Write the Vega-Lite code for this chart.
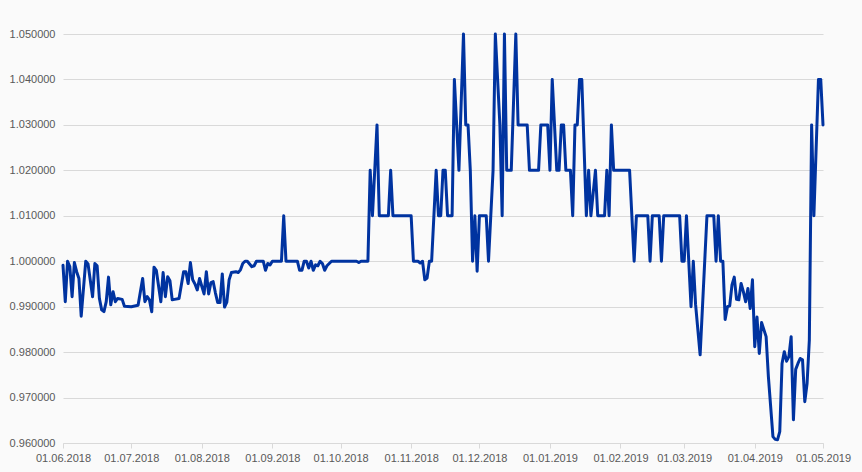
{
  "$schema": "https://vega.github.io/schema/vega-lite/v6.json",
  "width": 760,
  "height": 409,
  "autosize": {"type": "none"},
  "padding": {"left": 63, "top": 34, "right": 39, "bottom": 29},
  "background": "#fafafa",
  "config": {"view": {"stroke": null}, "font": "Liberation Sans"},
  "data": {"values": [
    {"d":"2018-06-01","v":0.9991},{"d":"2018-06-02","v":0.9911},{"d":"2018-06-03","v":1.0},{"d":"2018-06-04","v":0.9988},{"d":"2018-06-05","v":0.9922},{"d":"2018-06-06","v":0.9997},{"d":"2018-06-07","v":0.9977},{"d":"2018-06-08","v":0.9962},{"d":"2018-06-09","v":0.9879},{"d":"2018-06-11","v":1.0},{"d":"2018-06-12","v":0.9994},{"d":"2018-06-14","v":0.9922},{"d":"2018-06-15","v":0.9995},{"d":"2018-06-16","v":0.999},{"d":"2018-06-17","v":0.9918},{"d":"2018-06-18","v":0.9893},{"d":"2018-06-19","v":0.9889},{"d":"2018-06-20","v":0.9911},{"d":"2018-06-21","v":0.9965},{"d":"2018-06-22","v":0.9904},{"d":"2018-06-23","v":0.9933},{"d":"2018-06-24","v":0.9911},{"d":"2018-06-25","v":0.9918},{"d":"2018-06-27","v":0.9916},{"d":"2018-06-28","v":0.9901},
    {"d":"2018-07-01","v":0.99},{"d":"2018-07-04","v":0.9903},{"d":"2018-07-06","v":0.9962},{"d":"2018-07-07","v":0.9911},{"d":"2018-07-08","v":0.9922},{"d":"2018-07-09","v":0.9915},{"d":"2018-07-10","v":0.9889},{"d":"2018-07-11","v":0.9987},{"d":"2018-07-12","v":0.998},{"d":"2018-07-14","v":0.9911},{"d":"2018-07-15","v":0.9975},{"d":"2018-07-16","v":0.9922},{"d":"2018-07-17","v":0.9966},{"d":"2018-07-18","v":0.9957},{"d":"2018-07-19","v":0.9915},{"d":"2018-07-20","v":0.9916},{"d":"2018-07-22","v":0.9918},{"d":"2018-07-24","v":0.9977},{"d":"2018-07-25","v":0.9977},{"d":"2018-07-26","v":0.9951},{"d":"2018-07-27","v":0.9997},{"d":"2018-07-28","v":0.9959},{"d":"2018-07-29","v":0.995},{"d":"2018-07-30","v":0.9937},{"d":"2018-07-31","v":0.9962},
    {"d":"2018-08-01","v":0.9945},{"d":"2018-08-02","v":0.9928},{"d":"2018-08-03","v":0.9977},{"d":"2018-08-04","v":0.9928},{"d":"2018-08-05","v":0.9953},{"d":"2018-08-06","v":0.9955},{"d":"2018-08-07","v":0.993},{"d":"2018-08-08","v":0.9909},{"d":"2018-08-09","v":0.9909},{"d":"2018-08-10","v":0.9972},{"d":"2018-08-11","v":0.9899},{"d":"2018-08-12","v":0.991},{"d":"2018-08-13","v":0.9959},{"d":"2018-08-14","v":0.9975},{"d":"2018-08-16","v":0.9977},{"d":"2018-08-17","v":0.9975},{"d":"2018-08-18","v":0.9981},{"d":"2018-08-19","v":0.9995},{"d":"2018-08-20","v":1.0},{"d":"2018-08-21","v":1.0},{"d":"2018-08-23","v":0.9988},{"d":"2018-08-24","v":0.999},{"d":"2018-08-25","v":1.0},{"d":"2018-08-28","v":1.0},{"d":"2018-08-29","v":0.998},{"d":"2018-08-30","v":0.9995},{"d":"2018-08-31","v":0.9992},
    {"d":"2018-09-01","v":1.0},{"d":"2018-09-05","v":1.0},{"d":"2018-09-06","v":1.01},{"d":"2018-09-07","v":1.0},{"d":"2018-09-12","v":1.0},{"d":"2018-09-13","v":0.998},{"d":"2018-09-14","v":0.998},{"d":"2018-09-15","v":1.0},{"d":"2018-09-16","v":1.0},{"d":"2018-09-17","v":0.9985},{"d":"2018-09-18","v":1.0},{"d":"2018-09-19","v":0.998},{"d":"2018-09-20","v":0.9992},{"d":"2018-09-21","v":0.999},{"d":"2018-09-22","v":1.0},{"d":"2018-09-23","v":0.9995},{"d":"2018-09-24","v":0.998},{"d":"2018-09-25","v":0.999},{"d":"2018-09-26","v":0.9995},{"d":"2018-09-27","v":1.0},
    {"d":"2018-10-08","v":1.0},{"d":"2018-10-09","v":0.9997},{"d":"2018-10-10","v":1.0},{"d":"2018-10-13","v":1.0},{"d":"2018-10-14","v":1.02},{"d":"2018-10-15","v":1.01},{"d":"2018-10-17","v":1.03},{"d":"2018-10-18","v":1.01},{"d":"2018-10-22","v":1.01},{"d":"2018-10-23","v":1.02},{"d":"2018-10-24","v":1.01},
    {"d":"2018-11-01","v":1.01},{"d":"2018-11-02","v":1.0},{"d":"2018-11-04","v":1.0},{"d":"2018-11-05","v":0.9996},{"d":"2018-11-06","v":1.0},{"d":"2018-11-07","v":0.9959},{"d":"2018-11-08","v":0.9963},{"d":"2018-11-09","v":1.0},{"d":"2018-11-10","v":1.0},{"d":"2018-11-12","v":1.02},{"d":"2018-11-13","v":1.01},{"d":"2018-11-14","v":1.01},{"d":"2018-11-15","v":1.02},{"d":"2018-11-16","v":1.02},{"d":"2018-11-17","v":1.01},{"d":"2018-11-19","v":1.01},{"d":"2018-11-20","v":1.04},{"d":"2018-11-22","v":1.02},{"d":"2018-11-24","v":1.05},{"d":"2018-11-25","v":1.03},{"d":"2018-11-26","v":1.03},{"d":"2018-11-27","v":1.02},{"d":"2018-11-28","v":1.0},{"d":"2018-11-29","v":1.01},{"d":"2018-11-30","v":0.9978},
    {"d":"2018-12-01","v":1.01},{"d":"2018-12-04","v":1.01},{"d":"2018-12-05","v":1.0},{"d":"2018-12-07","v":1.02},{"d":"2018-12-08","v":1.05},{"d":"2018-12-10","v":1.03},{"d":"2018-12-11","v":1.01},{"d":"2018-12-12","v":1.05},{"d":"2018-12-13","v":1.02},{"d":"2018-12-15","v":1.02},{"d":"2018-12-17","v":1.05},{"d":"2018-12-18","v":1.03},{"d":"2018-12-22","v":1.03},{"d":"2018-12-23","v":1.02},{"d":"2018-12-27","v":1.02},{"d":"2018-12-28","v":1.03},{"d":"2018-12-31","v":1.03},
    {"d":"2019-01-01","v":1.02},{"d":"2019-01-02","v":1.04},{"d":"2019-01-04","v":1.02},{"d":"2019-01-05","v":1.02},{"d":"2019-01-06","v":1.03},{"d":"2019-01-07","v":1.03},{"d":"2019-01-08","v":1.02},{"d":"2019-01-10","v":1.02},{"d":"2019-01-11","v":1.01},{"d":"2019-01-12","v":1.03},{"d":"2019-01-13","v":1.03},{"d":"2019-01-14","v":1.04},{"d":"2019-01-15","v":1.04},{"d":"2019-01-17","v":1.01},{"d":"2019-01-18","v":1.02},{"d":"2019-01-19","v":1.01},{"d":"2019-01-21","v":1.02},{"d":"2019-01-22","v":1.01},{"d":"2019-01-25","v":1.01},{"d":"2019-01-26","v":1.02},{"d":"2019-01-27","v":1.01},{"d":"2019-01-28","v":1.03},{"d":"2019-01-29","v":1.02},
    {"d":"2019-02-05","v":1.02},{"d":"2019-02-07","v":1.0},{"d":"2019-02-08","v":1.01},{"d":"2019-02-13","v":1.01},{"d":"2019-02-14","v":1.0},{"d":"2019-02-15","v":1.01},{"d":"2019-02-18","v":1.01},{"d":"2019-02-19","v":1.0},{"d":"2019-02-20","v":1.01},{"d":"2019-02-27","v":1.01},{"d":"2019-02-28","v":1.0},
    {"d":"2019-03-01","v":1.0},{"d":"2019-03-02","v":1.01},{"d":"2019-03-04","v":0.99},{"d":"2019-03-05","v":1.0},{"d":"2019-03-06","v":0.9905},{"d":"2019-03-08","v":0.9794},{"d":"2019-03-11","v":1.01},{"d":"2019-03-14","v":1.01},{"d":"2019-03-15","v":1.0},{"d":"2019-03-16","v":1.01},{"d":"2019-03-17","v":1.0},{"d":"2019-03-18","v":1.0},{"d":"2019-03-19","v":0.9872},{"d":"2019-03-20","v":0.99},{"d":"2019-03-21","v":0.9902},{"d":"2019-03-22","v":0.9948},{"d":"2019-03-23","v":0.9965},{"d":"2019-03-24","v":0.9916},{"d":"2019-03-25","v":0.9915},{"d":"2019-03-26","v":0.9951},{"d":"2019-03-27","v":0.9933},{"d":"2019-03-28","v":0.9911},{"d":"2019-03-29","v":0.994},{"d":"2019-03-30","v":0.9896},{"d":"2019-03-31","v":0.9959},
    {"d":"2019-04-01","v":0.9812},{"d":"2019-04-02","v":0.9877},{"d":"2019-04-03","v":0.9797},{"d":"2019-04-04","v":0.9865},{"d":"2019-04-06","v":0.9834},{"d":"2019-04-07","v":0.9746},{"d":"2019-04-09","v":0.9614},{"d":"2019-04-10","v":0.9608},{"d":"2019-04-11","v":0.9607},{"d":"2019-04-12","v":0.9625},{"d":"2019-04-13","v":0.9775},{"d":"2019-04-14","v":0.9801},{"d":"2019-04-15","v":0.978},{"d":"2019-04-16","v":0.979},{"d":"2019-04-17","v":0.9834},{"d":"2019-04-18","v":0.9651},{"d":"2019-04-19","v":0.9762},{"d":"2019-04-20","v":0.9775},{"d":"2019-04-21","v":0.9786},{"d":"2019-04-22","v":0.9783},{"d":"2019-04-23","v":0.9691},{"d":"2019-04-24","v":0.9731},{"d":"2019-04-25","v":0.9827},{"d":"2019-04-26","v":1.03},{"d":"2019-04-27","v":1.01},{"d":"2019-04-29","v":1.04},{"d":"2019-04-30","v":1.04},{"d":"2019-05-01","v":1.03}
  ]},
  "mark": {"type": "line", "color": "#0033a0", "strokeWidth": 3, "strokeJoin": "round", "strokeCap": "round", "clip": false},
  "encoding": {
    "x": {
      "field": "d", "type": "temporal",
      "scale": {"type": "utc", "domain": [{"year": 2018, "month": 6, "date": 1, "utc": true}, {"year": 2019, "month": 5, "date": 1, "utc": true}], "nice": false},
      "axis": {
        "title": null,
        "format": "%d.%m.%Y",
        "values": [
          {"year": 2018, "month": 6, "date": 1, "utc": true},
          {"year": 2018, "month": 7, "date": 1, "utc": true},
          {"year": 2018, "month": 8, "date": 1, "utc": true},
          {"year": 2018, "month": 9, "date": 1, "utc": true},
          {"year": 2018, "month": 10, "date": 1, "utc": true},
          {"year": 2018, "month": 11, "date": 1, "utc": true},
          {"year": 2018, "month": 12, "date": 1, "utc": true},
          {"year": 2019, "month": 1, "date": 1, "utc": true},
          {"year": 2019, "month": 2, "date": 1, "utc": true},
          {"year": 2019, "month": 3, "date": 1, "utc": true},
          {"year": 2019, "month": 4, "date": 1, "utc": true},
          {"year": 2019, "month": 5, "date": 1, "utc": true}
        ],
        "grid": false,
        "domainColor": "#d9d9d9",
        "domainWidth": 1,
        "tickColor": "#d9d9d9",
        "tickSize": 5,
        "labelColor": "#595959",
        "labelFontSize": 11,
        "labelPadding": 4,
        "labelFlush": false,
        "labelOverlap": false
      }
    },
    "y": {
      "field": "v", "type": "quantitative",
      "scale": {"domain": [0.96, 1.05], "nice": false, "zero": false},
      "axis": {
        "title": null,
        "format": ".6f",
        "values": [0.96, 0.97, 0.98, 0.99, 1.0, 1.01, 1.02, 1.03, 1.04, 1.05],
        "domain": false,
        "ticks": false,
        "grid": true,
        "gridColor": "#d9d9d9",
        "gridWidth": 1,
        "labelColor": "#595959",
        "labelFontSize": 11,
        "labelPadding": 8
      }
    }
  }
}
